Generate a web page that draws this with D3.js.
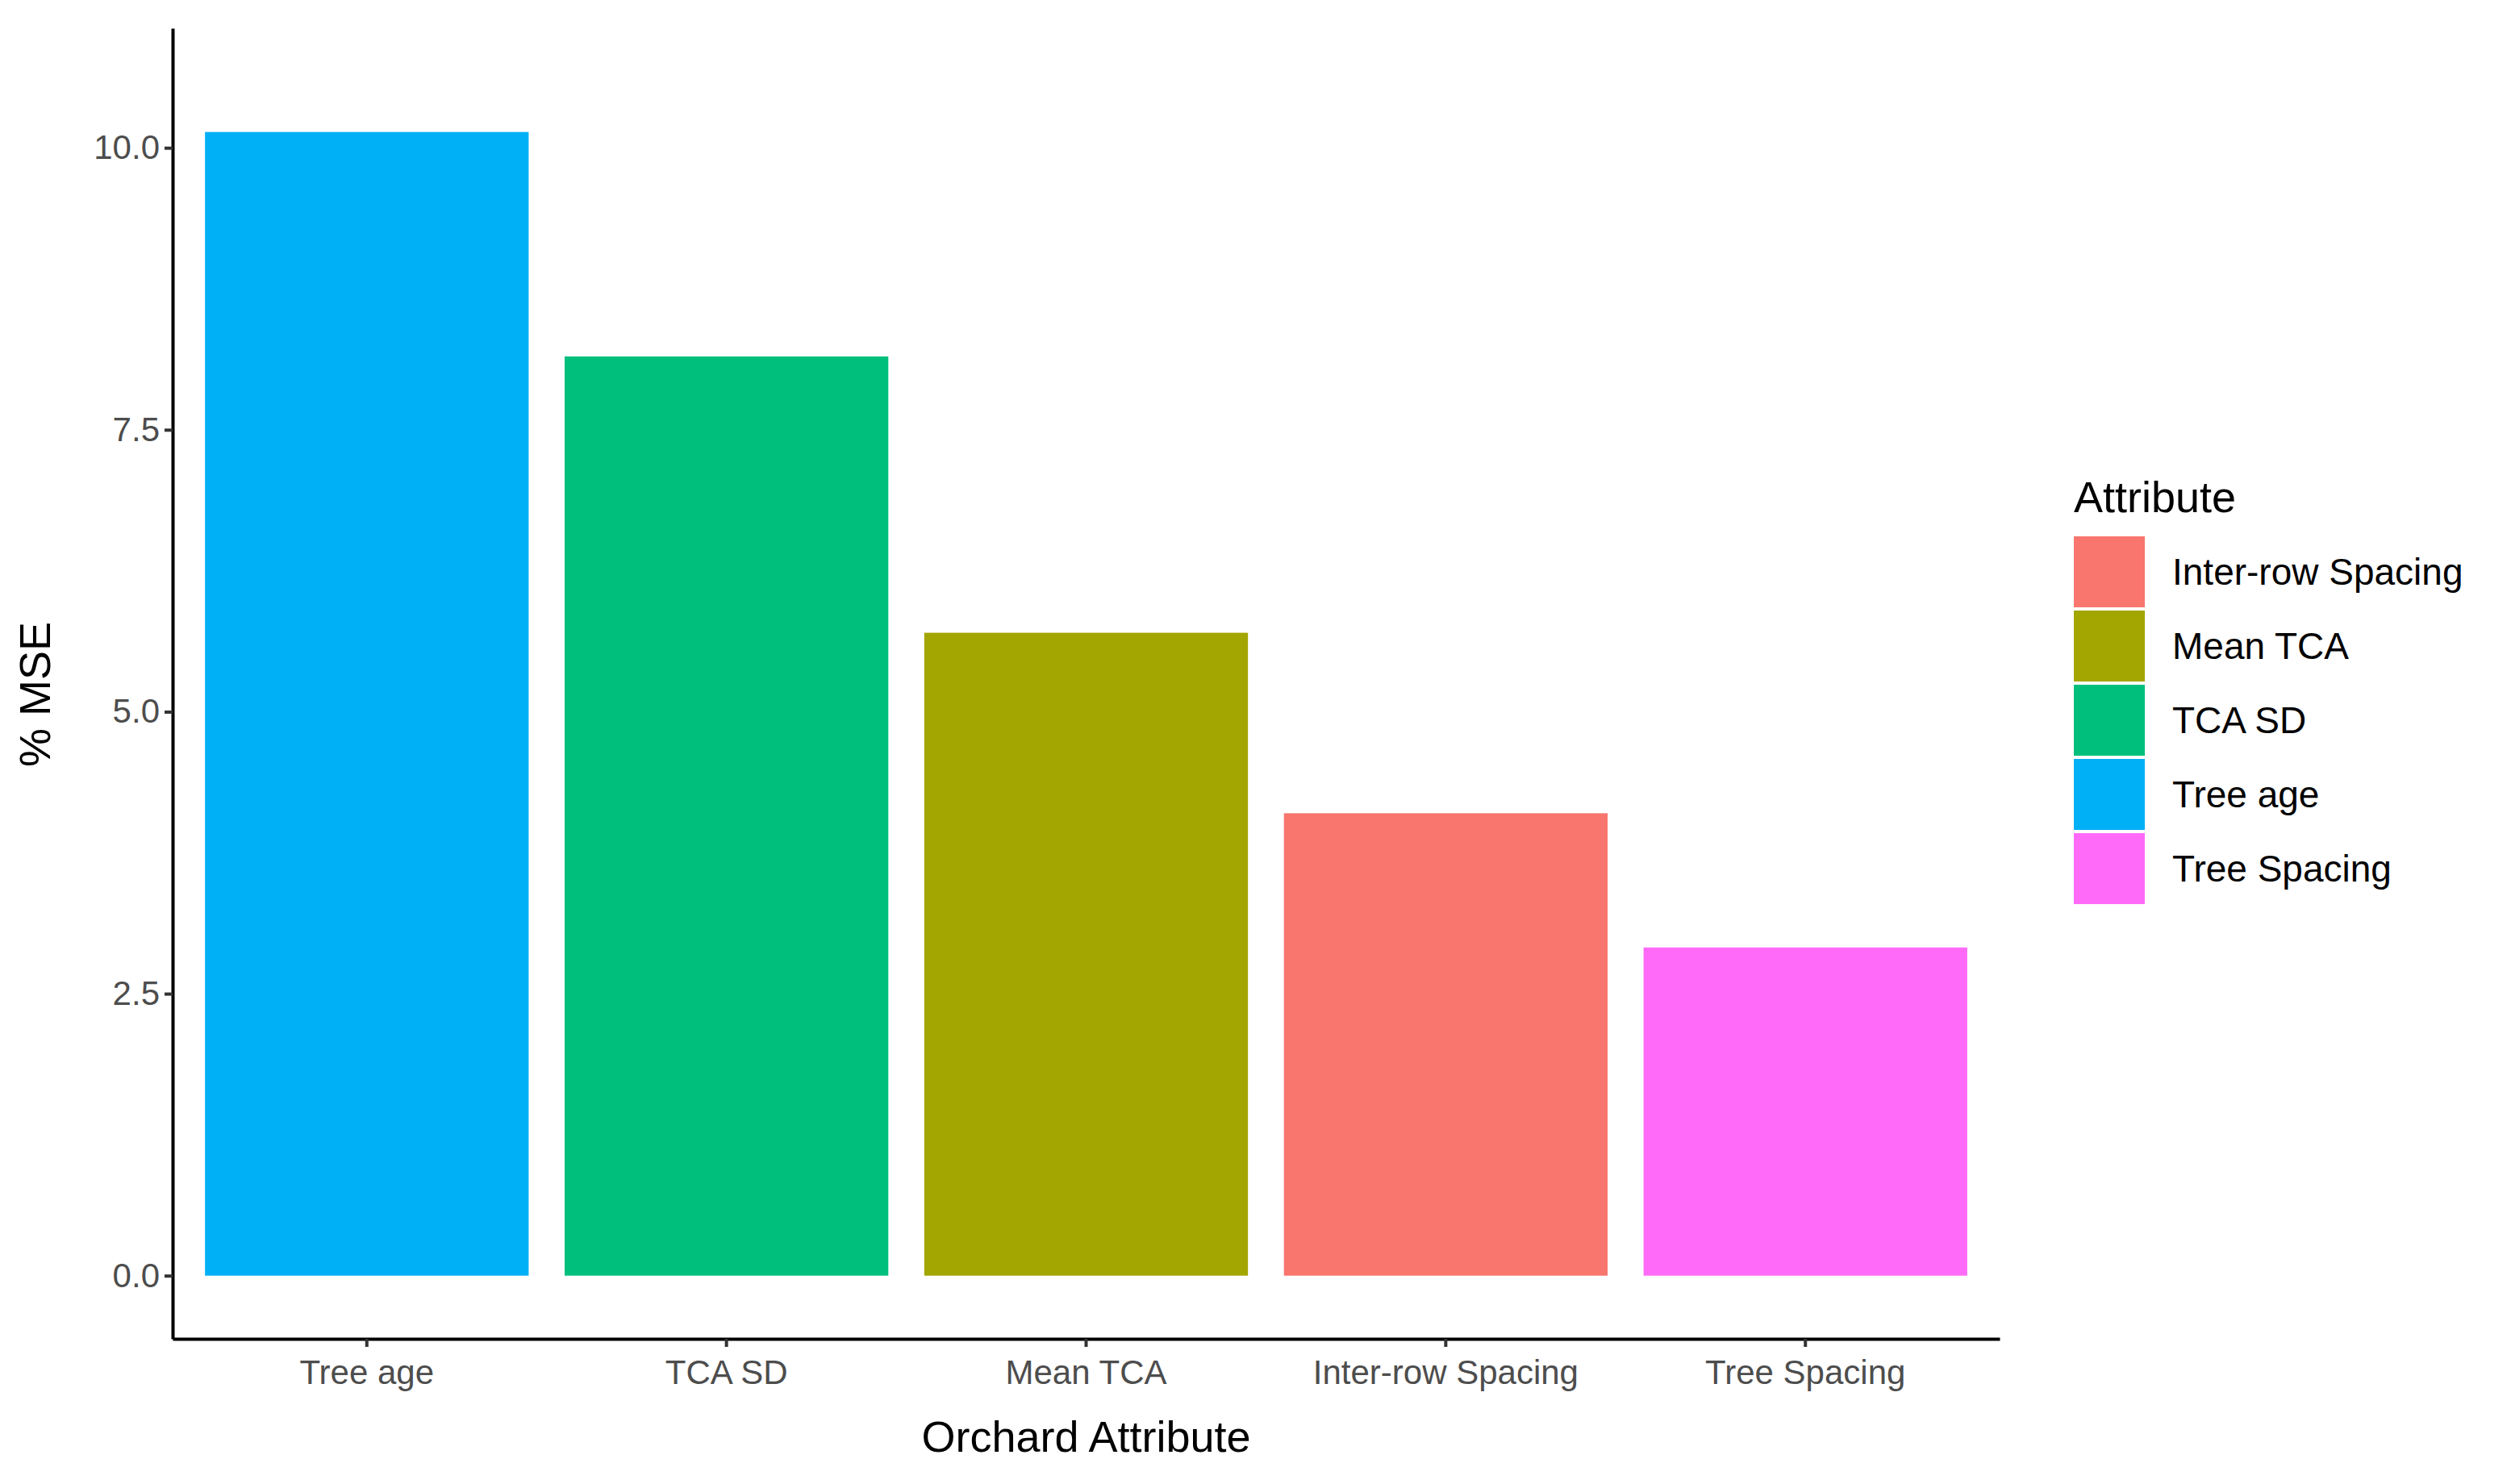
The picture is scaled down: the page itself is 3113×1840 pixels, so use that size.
<!DOCTYPE html>
<html><head><meta charset="utf-8">
<script src="https://cdn.jsdelivr.net/npm/d3@7"></script>
<style>body{margin:0;background:#fff}text{font-family:"Liberation Sans",Arial,sans-serif}</style>
</head><body><svg id="c" width="3113" height="1840"></svg>
<script>
// bars in plotted order
var categories = ["Tree age", "TCA SD", "Mean TCA", "Inter-row Spacing", "Tree Spacing"];
var values = [10.14, 8.15, 5.70, 4.10, 2.91];
// legend order (alphabetical, as ggplot)
var legendItems = ["Inter-row Spacing", "Mean TCA", "TCA SD", "Tree age", "Tree Spacing"];
var legendColors = ["#F8766D", "#A3A500", "#00BF7D", "#00B0F6", "#E76BF3"];
var yTicks = [0, 2.5, 5, 7.5, 10];

var svg = d3.select("#c");
var L = 214, R = 2479, T = 35, B = 1660;
var color = d3.scaleOrdinal().domain(legendItems).range(["#F8766D", "#A3A500", "#00BF7D", "#00B0F6", "#FF6BF8"]);
var x = d3.scaleBand().domain(categories).range([L, R]).paddingInner(0.1).paddingOuter(0.09);
var y = d3.scaleLinear().domain([-0.56, 11.06]).range([B, T]);

svg.selectAll("rect.bar").data(categories).enter().append("rect")
  .attr("class", "bar")
  .attr("x", function(d) { return x(d); })
  .attr("width", x.bandwidth())
  .attr("y", function(d, i) { return y(values[i]); })
  .attr("height", function(d, i) { return y(0) - y(values[i]); })
  .attr("fill", function(d) { return color(d); });

var ya = svg.append("g").attr("transform", "translate(" + L + ",0)")
  .call(d3.axisLeft(y).tickValues(yTicks).tickFormat(d3.format(".1f")).tickSize(10).tickSizeOuter(0));
var xa = svg.append("g").attr("transform", "translate(0," + B + ")")
  .call(d3.axisBottom(x).tickSize(10).tickSizeOuter(0));
[ya, xa].forEach(function(a) {
  a.select(".domain").attr("stroke", "#000").attr("stroke-width", 4);
  a.selectAll(".tick line").attr("stroke", "#333").attr("stroke-width", 4);
  a.selectAll(".tick text").attr("fill", "#4d4d4d").style("font-size", "42px");
});
ya.selectAll(".tick text").attr("x", -16);
xa.selectAll(".tick text").attr("y", 26);

svg.append("text").attr("x", (L + R) / 2).attr("y", 1800).attr("text-anchor", "middle")
  .style("font-size", "54px").text("Orchard Attribute");
svg.append("text").attr("transform", "translate(62,861) rotate(-90)").attr("text-anchor", "middle")
  .style("font-size", "54px").text("% MSE");

var lg = svg.append("g").attr("transform", "translate(2571,0)");
lg.append("text").attr("x", 0).attr("y", 635).style("font-size", "54px").text("Attribute");
var it = lg.selectAll("g.it").data(legendItems).enter().append("g")
  .attr("transform", function(d, i) { return "translate(0," + (665 + i * 92) + ")"; });
it.append("rect").attr("width", 88).attr("height", 88).attr("fill", function(d) { return color(d); });
it.append("text").attr("x", 122).attr("y", 60).style("font-size", "46px").text(function(d) { return d; });
</script></body></html>
